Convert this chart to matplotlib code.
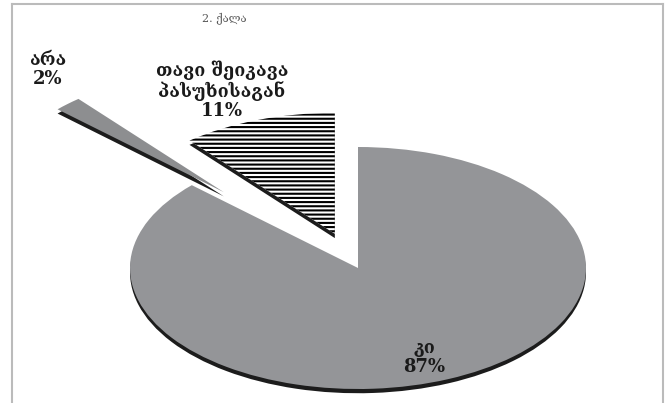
import matplotlib
matplotlib.use('Agg')
import matplotlib.pyplot as plt
from matplotlib.lines import Line2D

labels = ['კი', 'არა', 'თავი შეიკავა\nპასუხისაგან']
values = [87, 2, 11]
explode = [0, 0.86, 0.3]
colors = ['#949598', '#8d8e90', 'white']
title = '2. ქალა'

plt.rcParams['hatch.linewidth'] = 1.5

fig = plt.figure(figsize=(6.70, 4.03), dpi=100)
ax = fig.add_axes([0, 0, 1, 1])

# dark copy a bit lower gives the slices some thickness
ax.pie(values, explode=explode, startangle=90, counterclock=False,
       colors=['#1c1c1c'] * 3, center=(0, -0.035), wedgeprops=dict(linewidth=0))
wedges, _ = ax.pie(values, explode=explode, startangle=90, counterclock=False,
                   colors=colors, wedgeprops=dict(linewidth=0))
wedges[2].set_hatch('----')
wedges[2].set_edgecolor('black')

# squash the pie into a tilted ellipse
ax.set_aspect('auto')
ax.set_xlim(-358 / 228, 312 / 228)
ax.set_ylim(-135 / 121, 268 / 121)
ax.axis('off')

font = dict(family='DejaVu Serif', weight='bold', size=13, color='#1a1a1a',
            ha='center', va='center', linespacing=1.05)
text_pos = [(0.29, -0.74), (-1.36, 1.64), (-0.596, 1.47)]
for lab, val, (x, y) in zip(labels, values, text_pos):
    ax.text(x, y, f'{lab}\n{val}%', **font)

fig.text(224 / 670, 1 - 18 / 403, title, ha='center', va='center',
         fontsize=8, color='#555555', family='DejaVu Serif')

# frame around the picture
for xs, ys in [([12 / 670] * 2, [0, 1 - 4 / 403]),
               ([663 / 670] * 2, [0, 1 - 4 / 403]),
               ([12 / 670, 663 / 670], [1 - 4 / 403] * 2)]:
    fig.add_artist(Line2D(xs, ys, color='#bbbbbb', lw=1.5))

fig.savefig('out.png', dpi=100)
